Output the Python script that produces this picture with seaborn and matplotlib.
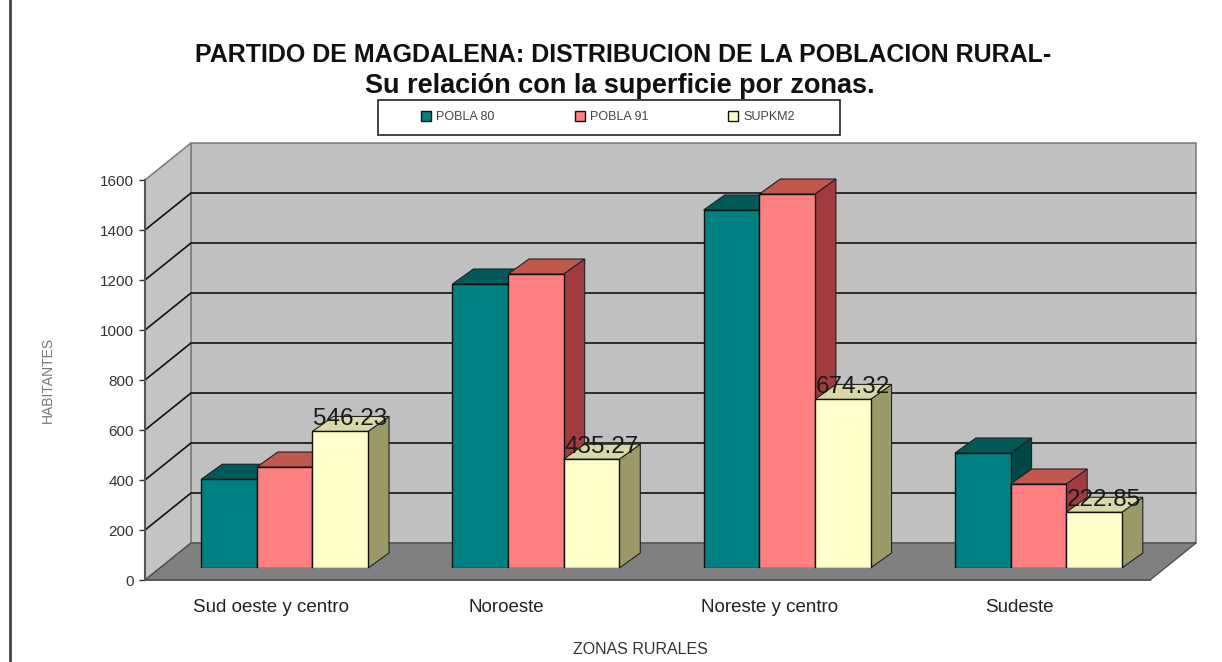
import matplotlib
matplotlib.use('Agg')
import matplotlib.pyplot as plt
import pandas as pd
import seaborn as sns

# values
zonas = ['Sud oeste y centro', 'Noroeste', 'Noreste y centro', 'Sudeste']
pobla80 = [355, 1136, 1432, 460]
pobla91 = [404, 1176, 1496, 336]
supkm2 = [546.23, 435.27, 674.32, 222.85]
yticks = [0, 200, 400, 600, 800, 1000, 1200, 1400, 1600]

W, H = 1222, 662

sns.set_theme(style='white')
plt.rcParams['font.family'] = ['Liberation Sans', 'DejaVu Sans']


def box(x0, x1, ytop, ybot):
    # axes rectangle from pixel edges of the picture
    return [x0 / W, 1 - ybot / H, (x1 - x0) / W, (ybot - ytop) / H]


df = pd.DataFrame({'zona': zonas, 'POBLA 80': pobla80, 'POBLA 91': pobla91, 'SUPKM2': supkm2})
df = df.melt(id_vars='zona', var_name='serie', value_name='valor')

fig = plt.figure(figsize=(W / 100, H / 100), dpi=100)
ax = fig.add_axes(box(145, 1150, 180, 580))
bx = fig.add_axes(box(159, 1164, 168, 568))
bx.patch.set_alpha(0)

ax.set_xlim(-0.5, 3.5)
ax.set_ylim(0, 1600)

# walls and floor of the 3d box
back_dx = 46 / 251.25
back_dy = 37 / 0.25
xl, xr = -0.5, 3.5
ax.fill([xl + back_dx, xr + back_dx, xr + back_dx, xl + back_dx],
        [back_dy, back_dy, 1600 + back_dy, 1600 + back_dy],
        color='#c0c0c0', ec='#808080', lw=1.2, clip_on=False, zorder=1)
ax.fill([xl, xl + back_dx, xl + back_dx, xl],
        [0, back_dy, 1600 + back_dy, 1600],
        color='#c4c4c4', ec='#808080', lw=1.2, clip_on=False, zorder=1)
ax.fill([xl, xr, xr + back_dx, xl + back_dx],
        [0, 0, back_dy, back_dy],
        color='#808080', ec='#505050', lw=1, clip_on=False, zorder=2)
for v in yticks[1:-1]:
    ax.plot([xl, xl + back_dx, xr + back_dx], [v, v + back_dy, v + back_dy],
            color='#111111', lw=1.2, clip_on=False, zorder=2)

sns.barplot(data=df, x='zona', y='valor', hue='serie', order=zonas,
            palette=['#008080', '#ff8080', '#ffffcc'], width=0.664, gap=0,
            saturation=1, edgecolor='#111111', linewidth=1, ax=bx)
bx.set_xlim(-0.5, 3.5)
bx.set_ylim(0, 1600)

# depth of the bars, faces built from each bar the library drew
dx = 21 / 251.25
dy = 15 / 0.25
tops = ['#005a5a', '#c0584e', '#d8d8a8']
sides = ['#004848', '#a03c40', '#9a9a68']
for i, cont in enumerate(bx.containers):
    for bar in cont:
        x0, w, h = bar.get_x(), bar.get_width(), bar.get_height()
        x1 = x0 + w
        bx.fill([x1, x1 + dx, x1 + dx, x1], [0, dy, h + dy, h],
                color=sides[i], ec='#222222', lw=0.8, clip_on=False, zorder=3 + i * 2)
        bx.fill([x0, x1, x1 + dx, x0 + dx], [h, h, h + dy, h + dy],
                color=tops[i], ec='#222222', lw=0.8, clip_on=False, zorder=3 + i * 2)
        bar.set_zorder(4 + i * 2)

# labels on the third series only
for bar, val in zip(bx.containers[2], supkm2):
    bx.text(bar.get_x() + bar.get_width() / 2 + 0.04, val + 6, f'{val:.2f}',
            ha='center', va='bottom', fontsize=17.5, color='#1a1a1a', zorder=20)

# legend frame is wider than the entries need
fig.add_artist(plt.Rectangle((378 / W, 1 - 135 / H), 462 / W, 35 / H, transform=fig.transFigure,
                             fc='white', ec='#222222', lw=1.2, zorder=-1))
sns.move_legend(bx, 'center', bbox_to_anchor=(608 / W, 1 - 117 / H),
                bbox_transform=fig.transFigure, ncol=3, title=None, frameon=False,
                fontsize=9, handlelength=0.8, handleheight=0.8, handletextpad=0.4,
                columnspacing=6.4, labelcolor='#444444')

bx.axis('off')

sns.despine(ax=ax, left=False, bottom=False, right=True, top=True)
ax.spines['left'].set_color('#555555')
ax.spines['left'].set_linewidth(1.5)
ax.spines['bottom'].set_color('#555555')
ax.spines['bottom'].set_zorder(3)
ax.set_xticks([0, 0.94, 1.985, 2.98])
ax.set_xticklabels(zonas, fontsize=13.5, color='#222222')
ax.set_yticks(yticks)
ax.set_yticklabels(yticks, fontsize=11, color='#333333')
ax.tick_params(axis='y', left=True, length=4, width=1, color='#333333', pad=4)
ax.tick_params(axis='x', bottom=False, pad=8)
ax.patch.set_alpha(0)

fig.text(640 / W, 1 - 650 / H, 'ZONAS RURALES', ha='center', va='center', fontsize=11.5, color='#333333')
fig.text(48 / W, 1 - 380 / H, 'HABITANTES', ha='center', va='center', rotation=90, fontsize=10, color='#777777')

fig.text(623 / W, 1 - 55 / H, 'PARTIDO DE MAGDALENA: DISTRIBUCION DE LA POBLACION RURAL-',
         ha='center', va='center', fontsize=18, fontweight='bold', color='#111111')
fig.text(620 / W, 1 - 86 / H, 'Su relación con la superficie por zonas.',
         ha='center', va='center', fontsize=19.5, fontweight='bold', color='#111111')

# rule on the left edge of the page
fig.add_artist(plt.Line2D([10 / W, 10 / W], [0, 1], color='#444444', lw=2))

fig.savefig('out.png', dpi=100)
